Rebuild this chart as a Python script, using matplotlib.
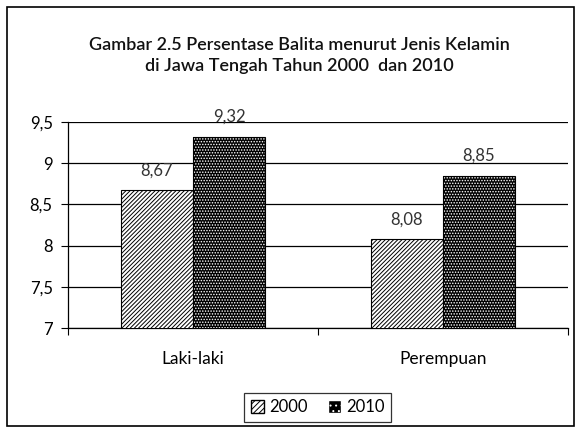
import matplotlib.pyplot as plt
from matplotlib.patches import Rectangle
import numpy as np

categories = ['Laki-laki', 'Perempuan']
years = ['2000', '2010']
val_2000 = [8.67, 8.08]
val_2010 = [9.32, 8.85]
y_ticks = [7, 7.5, 8, 8.5, 9, 9.5]

plt.rcParams['font.family'] = ['Lato', 'DejaVu Sans']
plt.rcParams['hatch.linewidth'] = 0.7

fig = plt.figure(figsize=(5.8, 4.32), dpi=100)
ax = fig.add_axes([0.1172, 0.2407, 0.862, 0.477])

x = np.arange(len(categories)) + 0.5
w = 0.288

# 2000: white with diagonal black lines
ax.bar(x - w / 2, val_2000, w, facecolor='white', edgecolor='black',
       hatch='////////', linewidth=0.8, zorder=3)
# 2010: black with white dots
ax.bar(x + w / 2, val_2010, w, facecolor='black', edgecolor='white',
       hatch='......', linewidth=0, zorder=3)
ax.bar(x + w / 2, val_2010, w, fill=False, edgecolor='black', linewidth=0.8, zorder=4)

for xs, vals in [(x - w / 2, val_2000), (x + w / 2, val_2010)]:
    for xi, v in zip(xs, vals):
        ax.text(xi, v + 0.24, f'{v:.2f}'.replace('.', ','), ha='center', va='center',
                fontsize=12, color='#333333')

ax.set_ylim(7, 9.5)
ax.set_xlim(0, 2)
ax.set_yticks(y_ticks)
ax.set_yticklabels([str(t).replace('.0', '').replace('.', ',') for t in y_ticks], fontsize=12)
ax.set_xticks([0, 1, 2])
ax.set_xticklabels([])
ax.tick_params(axis='x', length=5, direction='out', width=0.8)
ax.tick_params(axis='y', length=5, direction='out', width=0.8, pad=6)
for xi, c in zip(x, categories):
    ax.text(xi, -0.15, c, transform=ax.get_xaxis_transform(), ha='center', va='center', fontsize=12.5)

ax.yaxis.grid(True, color='black', linewidth=0.9, zorder=0)
ax.set_axisbelow(True)
for s in ['top', 'right']:
    ax.spines[s].set_visible(False)
ax.spines['left'].set_linewidth(0.9)
ax.spines['bottom'].set_linewidth(0.9)

fig.text(0.517, 0.872, 'Gambar 2.5 Persentase Balita menurut Jenis Kelamin\ndi Jawa Tengah Tahun 2000  dan 2010',
         ha='center', va='center', fontsize=13, fontweight='semibold', linespacing=1.4, color='#111111')

leg = fig.legend([Rectangle((0, 0), 1, 1, facecolor='white', edgecolor='black', hatch='//////'),
                  Rectangle((0, 0), 1, 1, facecolor='black', edgecolor='white', hatch='...')],
                 years, loc='center', bbox_to_anchor=(0.548, 0.057), ncol=2, frameon=True,
                 fancybox=False, edgecolor='black', fontsize=12, handlelength=0.8,
                 handleheight=0.8, columnspacing=1.2, handletextpad=0.3, borderpad=0.4)
leg.get_frame().set_linewidth(0.9)

fig.patches.append(Rectangle((0.012, 0.014), 0.978, 0.97, transform=fig.transFigure,
                             fill=False, edgecolor='black', linewidth=1.2))

fig.savefig('out.png', dpi=100, facecolor='white')
